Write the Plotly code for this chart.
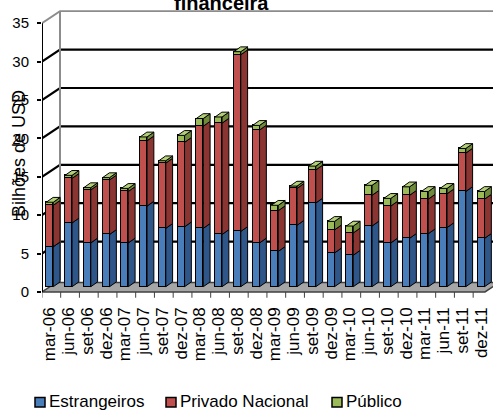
import plotly.graph_objects as go

# Quarterly issuance, in billions of USD
periodos = ["mar-06", "jun-06", "set-06", "dez-06", "mar-07", "jun-07", "set-07", "dez-07",
            "mar-08", "jun-08", "set-08", "dez-08", "mar-09", "jun-09", "set-09", "dez-09",
            "mar-10", "jun-10", "set-10", "dez-10", "mar-11", "jun-11", "set-11", "dez-11"]
estrangeiros = [5.2, 8.3, 5.7, 6.8, 5.7, 10.5, 7.6, 7.8, 7.6, 6.8, 7.2, 5.7,
                4.6, 8.0, 10.9, 4.4, 4.1, 7.9, 5.7, 6.3, 6.9, 7.7, 12.4, 6.3]
privado_nacional = [5.4, 5.8, 6.9, 7.1, 6.7, 8.5, 8.5, 11.0, 13.3, 14.5, 23.0, 14.7,
                    5.3, 4.8, 4.3, 3.0, 2.9, 4.0, 4.8, 5.6, 4.5, 4.4, 5.0, 5.1]
publico = [0.4, 0.4, 0.3, 0.3, 0.4, 0.5, 0.3, 0.9, 1.0, 0.8, 0.4, 0.6,
           0.7, 0.3, 0.5, 1.1, 0.9, 1.3, 1.0, 1.1, 1.0, 0.7, 0.6, 1.0]
y_ticks = [0, 5, 10, 15, 20, 25, 30, 35]

FONT = "Liberation Sans, Arial, sans-serif"
series = [
    ("Estrangeiros", estrangeiros, "#4A7EBB", "#2E5688"),
    ("Privado Nacional", privado_nacional, "#C0504D", "#8A3532"),
    ("Público", publico, "#9BBB59", "#6E8A3A"),
]
TOP_COLOR = "#B3CF78"

# pseudo-3D geometry (data units of the bar plane)
W = 0.373             # front face width (categories)
SDX, SDY = 0.363, 0.625   # bar depth offset
DX, DY = 0.96, 1.5625     # full floor depth offset
FRONT = 0.44              # depth of bar plane behind the front edge
X0 = -0.416
X1 = X0 + 451 / 18.75
Y0 = -(298 - 286.7) / 7.68
Y1 = (286.7 - 10) / 7.68
FX, FY = -FRONT * DX, -FRONT * DY                 # front plane offset
BX, BY = (1 - FRONT) * DX, (1 - FRONT) * DY       # back wall offset

idx = list(range(len(periodos)))
fig = go.Figure()

# front faces
for name, vals, front, side in series:
    fig.add_trace(go.Bar(x=idx, y=vals, width=W, name=name, showlegend=False,
                         marker=dict(color=front, line=dict(color="black", width=1))))

# side faces of every segment and top face of every stack
for si, (name, vals, front, side) in enumerate(series):
    xs, ys = [], []
    for i in idx:
        base = sum(series[k][1][i] for k in range(si))
        top = base + vals[i]
        xr = i + W / 2
        xs += [xr, xr + SDX, xr + SDX, xr, xr, None]
        ys += [base, base + SDY, top + SDY, top, base, None]
    fig.add_trace(go.Scatter(x=xs, y=ys, mode="lines", fill="toself", fillcolor=side,
                             line=dict(color="black", width=1), showlegend=False,
                             hoverinfo="skip"))
xs, ys = [], []
for i in idx:
    top = estrangeiros[i] + privado_nacional[i] + publico[i]
    xl, xr = i - W / 2, i + W / 2
    xs += [xl, xl + SDX, xr + SDX, xr, xl, None]
    ys += [top, top + SDY, top + SDY, top, top, None]
fig.add_trace(go.Scatter(x=xs, y=ys, mode="lines", fill="toself", fillcolor=TOP_COLOR,
                         line=dict(color="black", width=1), showlegend=False, hoverinfo="skip"))

shapes = []
# floor
k = 0.8
fr = 23.21
shapes.append(dict(type="path", xref="x", yref="y", layer="below",
                   path=f"M {X0},{FY} L {fr},{FY} L {fr + k*DX},{FY + k*DY} "
                        f"L {X0 + k*DX},{FY + k*DY} Z",
                   fillcolor="#A6A6A6", line=dict(color="#404040", width=1.5)))
# walls: gridlines across the side and back walls
for v in y_ticks[1:]:
    col, wd = ("black", 2.2) if v < 35 else ("#8C8C8C", 1.8)
    shapes.append(dict(type="path", xref="x", yref="y", layer="below",
                       path=f"M {X0},{v + FY} L {X0 + DX},{v + BY} L {X1 + 1},{v + BY}",
                       line=dict(color=col, width=wd)))
shapes.append(dict(type="line", xref="x", yref="y", layer="below",
                   x0=X0 + DX, x1=X0 + DX, y0=BY, y1=35 + BY,
                   line=dict(color="#8C8C8C", width=2)))
shapes.append(dict(type="line", xref="x", yref="y", layer="below",
                   x0=X0, x1=X0, y0=FY, y1=35 + FY, line=dict(color="black", width=2)))
# category tick marks on the front edge
for i in idx:
    shapes.append(dict(type="line", xref="x", yref="y", x0=i - 0.42, x1=i - 0.42,
                       y0=FY, y1=FY - 0.75, line=dict(color="#404040", width=1)))

# legend drawn as swatches + text
legend_items = [("Estrangeiros", "#4A7EBB", 35), ("Privado Nacional", "#C0504D", 166),
                ("Público", "#9BBB59", 332)]
annotations = []
PW, PH = 451, 288
for label, color, px in legend_items:
    shapes.append(dict(type="rect", xref="paper", yref="paper",
                       x0=(px - 42) / PW, x1=(px + 10 - 42) / PW,
                       y0=(298 - 407) / PH, y1=(298 - 397.5) / PH,
                       fillcolor=color, line=dict(color="black", width=1.5)))
    annotations.append(dict(text=label, xref="paper", yref="paper",
                            x=(px + 12 - 42) / PW, y=(298 - 401) / PH,
                            xanchor="left", yanchor="middle", showarrow=False,
                            font=dict(family=FONT, size=17, color="black")))

annotations.append(dict(text="<b>financeira</b>", xref="paper", yref="paper",
                        x=(221 - 42) / PW, y=1, xanchor="center", yanchor="bottom",
                        yshift=-6, showarrow=False,
                        font=dict(family=FONT, size=20, color="black")))
annotations.append(dict(text="Bilhões de USD", xref="paper", yref="paper",
                        x=(19 - 42) / PW, y=(298 - 154) / PH, xanchor="center",
                        yanchor="middle", textangle=-90, showarrow=False,
                        font=dict(family=FONT, size=18, color="black")))

fig.update_layout(
    width=493, height=410,
    margin=dict(l=42, r=0, t=10, b=112),
    paper_bgcolor="white", plot_bgcolor="white",
    barmode="stack", bargap=0,
    shapes=shapes, annotations=annotations,
    font=dict(family=FONT, color="black"),
    xaxis=dict(range=[X0, X1], tickvals=idx, ticktext=periodos, tickangle=-90,
               showgrid=False, zeroline=False, showline=False, ticks="",
               ticklabelstandoff=5, tickfont=dict(size=17, family=FONT)),
    yaxis=dict(range=[Y0, Y1], showgrid=False, zeroline=False, showticklabels=False,
               showline=False, ticks=""),
    yaxis2=dict(range=[Y0 - FY, Y1 - FY], overlaying="y", side="left", anchor="x",
                tickvals=y_ticks, ticks="outside", ticklen=4, tickwidth=1.5,
                tickcolor="black", showgrid=False, zeroline=False, showline=False,
                ticklabelstandoff=5, tickfont=dict(size=15, family=FONT)),
    showlegend=False,
)
# dummy trace so the front axis is drawn
fig.add_trace(go.Scatter(x=[None], y=[None], yaxis="y2", showlegend=False))

fig.write_html("out.html")
